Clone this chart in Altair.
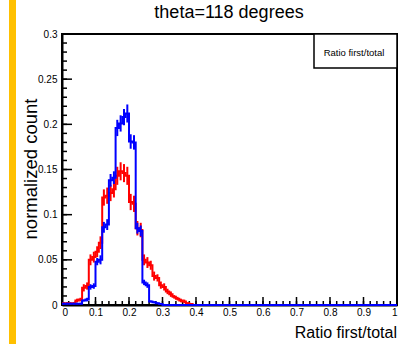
import altair as alt
import pandas as pd

# ---- data (bins of width 0.01 starting at 0) ----
bin_width = 0.01
red_vals = [0.002, 0.002, 0.002, 0.002, 0.005, 0.006, 0.019, 0.021, 0.050, 0.053,
            0.059, 0.069, 0.119, 0.121, 0.124, 0.128, 0.143, 0.148, 0.146, 0.143,
            0.114, 0.112, 0.085, 0.083, 0.050, 0.047, 0.044, 0.032, 0.030, 0.022,
            0.020, 0.015, 0.012, 0.009, 0.007, 0.005, 0.004, 0.002, 0.001, 0.0]
red_err = [0.001, 0.001, 0.001, 0.001, 0.002, 0.002, 0.004, 0.004, 0.006, 0.006,
           0.006, 0.007, 0.009, 0.009, 0.009, 0.009, 0.010, 0.010, 0.010, 0.010,
           0.009, 0.009, 0.008, 0.008, 0.006, 0.006, 0.005, 0.005, 0.004, 0.004,
           0.004, 0.003, 0.003, 0.002, 0.002, 0.002, 0.002, 0.001, 0.001, 0.0]
blue_vals = [0.0015, 0.0015, 0.0015, 0.0015, 0.0015, 0.0015, 0.005, 0.006, 0.020, 0.021,
             0.048, 0.050, 0.086, 0.089, 0.138, 0.141, 0.196, 0.201, 0.208, 0.212,
             0.181, 0.180, 0.085, 0.082, 0.025, 0.022, 0.004, 0.003, 0.002, 0.001,
             0.0, 0.0, 0.0, 0.0, 0.0, 0.0, 0.0, 0.0, 0.0, 0.0]
blue_err = [0.001, 0.001, 0.001, 0.001, 0.001, 0.001, 0.001, 0.002, 0.003, 0.003,
            0.004, 0.005, 0.006, 0.006, 0.007, 0.007, 0.009, 0.009, 0.009, 0.010,
            0.008, 0.008, 0.006, 0.006, 0.003, 0.003, 0.001, 0.001, 0.001, 0.001,
            0.0, 0.0, 0.0, 0.0, 0.0, 0.0, 0.0, 0.0, 0.0, 0.0]

x_ticks = [0, 0.1, 0.2, 0.3, 0.4, 0.5, 0.6, 0.7, 0.8, 0.9, 1]
y_ticks = [0, 0.05, 0.1, 0.15, 0.2, 0.25, 0.3]
x_minor = [round(i * 0.02, 2) for i in range(51)]
y_minor = [round(i * 0.01, 2) for i in range(31)]

title_text = "theta=118 degrees"
x_title = "Ratio first/total"
y_title = "normalized count"
legend_text = "Ratio first/total"

FONT = "Liberation Sans"
W, H = 335, 271
RED, BLUE = "#ff0000", "#0000ff"

xs = alt.Scale(domain=[0, 1], nice=False, zero=False)
ys = alt.Scale(domain=[0, 0.3], nice=False)

X_AX = alt.Axis(values=x_ticks, format="~g", ticks=False, grid=False,
                domain=True, domainColor="black", domainWidth=2,
                labelFont=FONT, labelFontSize=10, labelColor="black",
                labelPadding=2, title=None)
Y_AX = alt.Axis(values=y_ticks, format="~g", ticks=False, grid=False,
                domain=True, domainColor="black", domainWidth=2,
                labelFont=FONT, labelFontSize=10, labelColor="black",
                labelPadding=5, title=None)


def XE(f="x"):
    return alt.X(f"{f}:Q", scale=xs, axis=X_AX)


def YE(f="y"):
    return alt.Y(f"{f}:Q", scale=ys, axis=Y_AX)


def step_df(vals):
    rows = [{"x": round(i * bin_width, 3), "y": v} for i, v in enumerate(vals)]
    rows.append({"x": round(len(vals) * bin_width, 3), "y": 0.0})
    rows.append({"x": 1.0, "y": 0.0})
    return pd.DataFrame(rows)


def err_df(vals, errs):
    rows = []
    for i, (v, e) in enumerate(zip(vals, errs)):
        if v > 0:
            rows.append({"x": i * bin_width + bin_width / 2, "y": v - e, "y2": v + e})
    return pd.DataFrame(rows)


one = pd.DataFrame({"t": [""]})

bar = alt.Chart(one).mark_rect(color="#FFC000").encode(
    x=alt.value(-53), x2=alt.value(-46), y=alt.value(-34), y2=alt.value(310))


def hist_layers(vals, errs, color):
    line = alt.Chart(step_df(vals)).mark_line(
        interpolate="step-after", color=color, strokeWidth=2, clip=False).encode(x=XE(), y=YE())
    err = alt.Chart(err_df(vals, errs)).mark_rule(color=color, strokeWidth=2).encode(
        x=XE(), y=YE(), y2="y2:Q")
    return [line, err]


ytick_major = alt.Chart(pd.DataFrame({"y": y_ticks})).mark_rule(color="black", strokeWidth=1.5).encode(
    y=YE(), x=alt.value(0), x2=alt.value(10))
ytick_minor = alt.Chart(pd.DataFrame({"y": y_minor})).mark_rule(color="black", strokeWidth=1.5).encode(
    y=YE(), x=alt.value(0), x2=alt.value(5))
xtick_major = alt.Chart(pd.DataFrame({"x": x_ticks})).mark_rule(color="black", strokeWidth=1.5).encode(
    x=XE(), y=alt.value(H), y2=alt.value(H - 8))
xtick_minor = alt.Chart(pd.DataFrame({"x": x_minor})).mark_rule(color="black", strokeWidth=1.5).encode(
    x=XE(), y=alt.value(H), y2=alt.value(H - 4))

legend_box = alt.Chart(one).mark_rect(fill="white", stroke="black", strokeWidth=1.5).encode(
    x=alt.value(252), x2=alt.value(335), y=alt.value(0), y2=alt.value(34))


def label(text, x, y, size, align="center", angle=0, baseline="alphabetic"):
    return alt.Chart(pd.DataFrame({"t": [text]})).mark_text(
        font=FONT, fontSize=size, color="black", align=align, baseline=baseline, angle=angle
    ).encode(text="t:N", x=alt.value(x), y=alt.value(y))


legend_lbl = label(legend_text, 292, 22, 9.5)
title_lbl = label(title_text, 167, -16, 18)
xt_lbl = label(x_title, 335, 304, 16, align="right")
yt_lbl = label(y_title, -25, 135, 18.5, angle=270)

layers = ([bar, ytick_major, ytick_minor, xtick_major, xtick_minor]
          + hist_layers(red_vals, red_err, RED)
          + hist_layers(blue_vals, blue_err, BLUE)
          + [legend_box, legend_lbl, title_lbl, xt_lbl, yt_lbl])

chart = alt.layer(*layers).properties(
    width=W, height=H,
    autosize=alt.AutoSizeParams(type="none"),
    padding={"left": 62, "top": 34, "right": 7, "bottom": 39},
    background="white",
).configure_view(stroke="black", strokeWidth=2)

chart.save("out.html", embed_options={"renderer": "svg", "actions": False})
